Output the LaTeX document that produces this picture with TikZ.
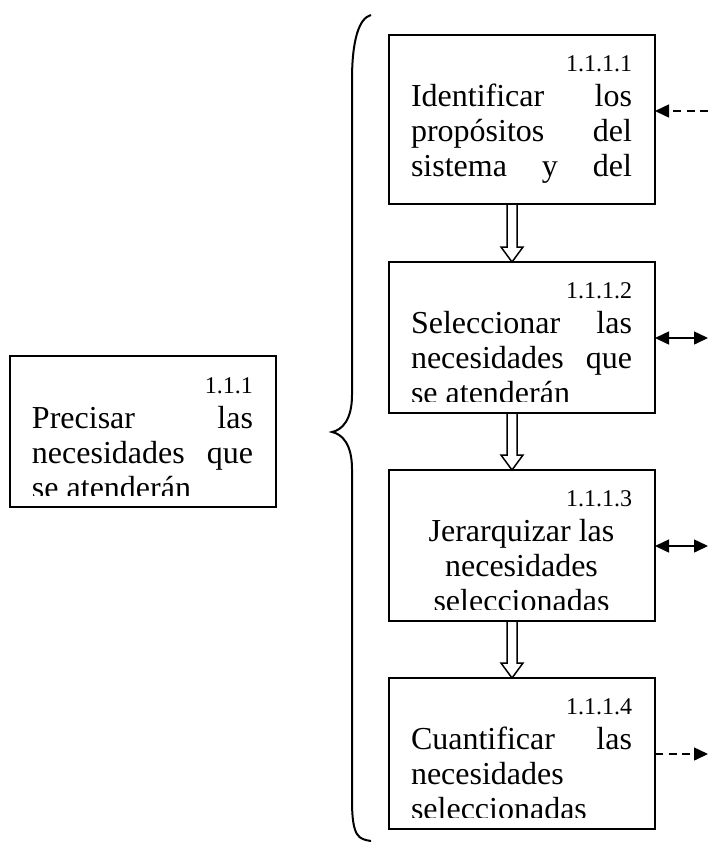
\documentclass[tikz,border=0pt]{standalone}
\usepackage{fontspec}
\setmainfont{Liberation Serif}
\usetikzlibrary{calc,arrows.meta}

% one line of a box text, set to the full text width
\newcommand\rowline[1]{\hbox to\hsize{#1}}
% number line (right aligned) followed by the body lines
\newcommand\boxtext[2]{\parbox[t]{110.5pt}{\fontsize{12pt}{17.5pt}\selectfont
  \lineskiplimit=-20pt
  \rowline{\hfill #1}\fontsize{16pt}{17.5pt}\selectfont #2}}

% hollow block arrow from the bottom of #1 down to the top of #2
\newcommand\hollowdown[2]{%
  \draw[hollow] ($(#1.south)+(-15,0)$) -- ($(#2.north)+(-15,-15)$)
    -- ($(#2.north)+(-21,-15)$) -- ($(#2.north)+(-10,0)$)
    -- ($(#2.north)+(1,-15)$) -- ($(#2.north)+(-5,-15)$)
    -- ($(#1.south)+(-5,0)$);}

\begin{document}
\begin{tikzpicture}[x=0.5pt,y=-0.5pt,
  box/.style={draw, line width=1pt, rectangle, inner sep=0pt, outer sep=0pt,
    minimum width=133pt, anchor=north west},
  txt/.style={anchor=base west, inner sep=0pt, outer sep=0pt},
  hollow/.style={line width=0.75pt, line join=miter},
  brace/.style={line width=1pt},
  dasharrow/.style={line width=0.75pt, dash pattern=on 4pt off 2.75pt,
    -{Triangle[length=7pt,width=6.5pt]}},
  twoarrow/.style={line width=0.75pt,
    {Triangle[length=7pt,width=6.5pt]}-{Triangle[length=7pt,width=6.5pt]}}]
\useasboundingbox[fill=white] (0,0) rectangle (708,842);

% boxes
\node[box, minimum height=75.5pt] (p)  at (10,356)  {};
\node[box, minimum height=84.5pt] (b1) at (389,35)  {};
\node[box, minimum height=75.5pt] (b2) at (389,262) {};
\node[box, minimum height=75.5pt] (b3) at (389,470) {};
\node[box, minimum height=75.5pt] (b4) at (389,678) {};

% box texts, cut off at the lower text margin
\begin{scope}
  \clip (p.north west) rectangle ($(p.south east)+(0,-12)$);
  \node[txt] (pt) at ($(p.north west)+(22,37)$) {\boxtext{1.1.1}{%
    \rowline{Precisar\hfill las}\rowline{necesidades\hfill que}%
    \rowline{se atenderán\hfill}}};
\end{scope}
\begin{scope}
  \clip (b1.north west) rectangle ($(b1.south east)+(0,-10)$);
  \node[txt] (b1t) at ($(b1.north west)+(22,36)$) {\boxtext{1.1.1.1}{%
    \rowline{Identificar\hfill los}\rowline{propósitos\hfill del}%
    \rowline{sistema\hfill y\hfill del}}};
\end{scope}
\begin{scope}
  \clip (b2.north west) rectangle ($(b2.south east)+(0,-12)$);
  \node[txt] (b2t) at ($(b2.north west)+(22,36)$) {\boxtext{1.1.1.2}{%
    \rowline{Seleccionar\hfill las}\rowline{necesidades\hfill que}%
    \rowline{se atenderán\hfill}}};
\end{scope}
\begin{scope}
  \clip (b3.north west) rectangle ($(b3.south east)+(0,-12)$);
  \node[txt] (b3t) at ($(b3.north west)+(22,36)$) {\boxtext{1.1.1.3}{%
    \rowline{\hfill Jerarquizar las\hfill}\rowline{\hfill necesidades\hfill}%
    \rowline{\hfill seleccionadas\hfill}}};
\end{scope}
\begin{scope}
  \clip (b4.north west) rectangle ($(b4.south east)+(0,-12)$);
  \node[txt] (b4t) at ($(b4.north west)+(22,36)$) {\boxtext{1.1.1.4}{%
    \rowline{Cuantificar\hfill las}\rowline{necesidades\hfill}%
    \rowline{seleccionadas\hfill}}};
\end{scope}

% hollow arrows between the steps
\hollowdown{b1}{b2}
\hollowdown{b2}{b3}
\hollowdown{b3}{b4}

% side connectors
\coordinate (e1) at ($(b1.north east)+(53,76)$);
\coordinate (e2) at ($(b2.north east)+(53,76)$);
\coordinate (e3) at ($(b3.north east)+(53,76)$);
\coordinate (e4) at ($(b4.north east)+(53,76)$);
\draw[dasharrow] (e1) -- (e1 -| b1.east);
\draw[twoarrow] (e2 -| b2.east) -- (e2);
\draw[twoarrow] (e3 -| b3.east) -- (e3);
\draw[dasharrow] (e4 -| b4.east) -- (e4);

% curly brace grouping the steps
\draw[brace] (371,15) .. controls (359,18) and (352,40) .. (352,80)
  -- (352,395) .. controls (352,420) and (342,430) .. (332,432)
  .. controls (342,434) and (352,444) .. (352,469)
  -- (352,800) .. controls (352,838) and (359,839) .. (371,841);
\end{tikzpicture}
\end{document}
